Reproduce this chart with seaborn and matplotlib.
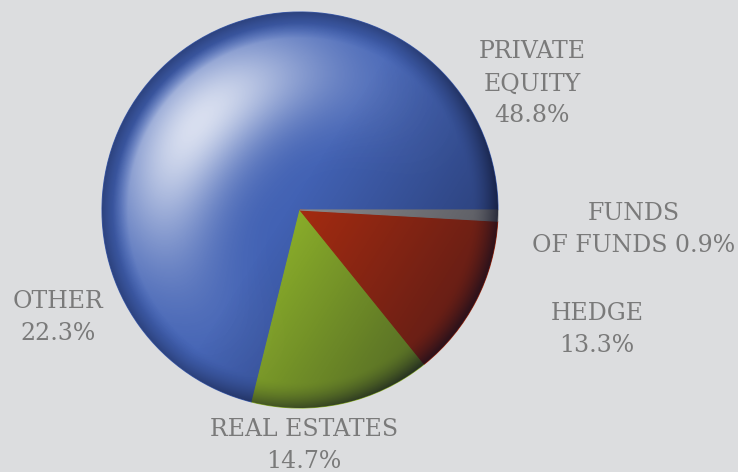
import numpy as np
import matplotlib
matplotlib.use("Agg")
import matplotlib.pyplot as plt
import seaborn as sns
from matplotlib.patches import Circle

# data
labels = ["PRIVATE\nEQUITY\n48.8%", "OTHER\n22.3%", "REAL ESTATES\n14.7%", "HEDGE\n13.3%", "FUNDS\nOF FUNDS 0.9%"]
shares = [48.8, 22.3, 14.7, 13.3, 0.9]
colors = ["#4262b4", "#4262b4", "#8cb02a", "#a82c10", "#8e8e8e"]

sns.set_theme(style="white")
plt.rcParams["font.family"] = ["DejaVu Serif"]

W, H = 738, 472
fig = plt.figure(figsize=(W / 100, H / 100), dpi=100, facecolor="#dcdddf")
ax = fig.add_axes([0, 0, 1, 1])
ax.set_facecolor("#dcdddf")

cx, cy, R = 300, H - 210, 198
wedges, _ = ax.pie(shares, colors=colors, startangle=0, counterclock=True,
                   center=(cx, cy), radius=R, frame=True)
for w, c in zip(wedges, colors):
    w.set_edgecolor(c)
    w.set_linewidth(0.8)

# glossy shading overlay
n = 400
u = np.linspace(-1, 1, n)
U, V = np.meshgrid(u, u[::-1])
r = np.sqrt(U ** 2 + V ** 2)
th = np.arctan2(V, U)
dth = np.angle(np.exp(1j * (th - np.deg2rad(140))))
hl = np.exp(-(dth / 1.0) ** 2) * np.exp(-((r - 0.68) / 0.28) ** 2)
hl *= np.clip((0.95 - r) / 0.08, 0, 1)
white = np.zeros((n, n, 4))
white[..., :3] = 1.0
white[..., 3] = np.clip(0.8 * hl, 0, 1)

rim = np.clip((r - 0.87) / 0.13, 0, 1) ** 1.6 * 0.35
side = np.clip(U * 0.7 - V * 0.45 + 0.05, 0, 1) * 0.5
black = np.zeros((n, n, 4))
black[..., :3] = [0.03, 0.04, 0.12]
black[..., 3] = np.clip(rim + side, 0, 0.75)

ext = (cx - R, cx + R, cy - R, cy + R)
clip = Circle((cx, cy), R, transform=ax.transData)
for img in (black, white):
    im = ax.imshow(img, extent=ext, interpolation="bilinear", zorder=3)
    im.set_clip_path(clip)

# labels
txt = dict(color="#7a7a7a", fontsize=17, ha="center", va="center", linespacing=1.5)
pos = [(532, 84), (58, 317), (304, 445), (597, 330), (634, 229)]
for lab, (x, y) in zip(labels, pos):
    ax.text(x, H - y, lab, **txt)

ax.set_xlim(0, W)
ax.set_ylim(0, H)
ax.set_aspect("equal")
ax.axis("off")

fig.savefig("out.png", dpi=100, facecolor=fig.get_facecolor())
